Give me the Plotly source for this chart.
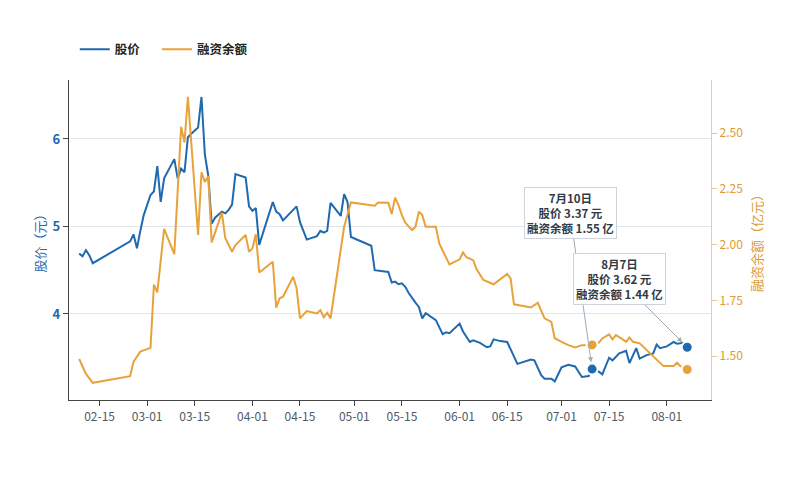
import plotly.graph_objects as go

YEAR = "2025"

# Stock price (yuan)
PRICE_DATES = [
    "02-09", "02-10", "02-11", "02-12", "02-13", "02-24", "02-25", "02-26", "02-27", "02-28",
    "03-02", "03-03", "03-04", "03-05", "03-06", "03-07", "03-09", "03-10", "03-11", "03-12",
    "03-13", "03-14", "03-16", "03-17", "03-18", "03-19", "03-20", "03-21", "03-23", "03-24",
    "03-25", "03-26", "03-27", "03-30", "03-31", "04-01", "04-02", "04-03", "04-07", "04-08",
    "04-09", "04-10", "04-14", "04-15", "04-17", "04-20", "04-21", "04-22", "04-23", "04-24",
    "04-27", "04-28", "04-29", "04-30", "05-06", "05-07", "05-10", "05-11", "05-12", "05-13",
    "05-14", "05-15", "05-16", "05-17", "05-19", "05-20", "05-21", "05-22", "05-25", "05-26",
    "05-27", "05-28", "05-29", "06-01", "06-02", "06-04", "06-05", "06-07", "06-09", "06-10",
    "06-11", "06-13", "06-15", "06-18", "06-22", "06-23", "06-25", "06-26", "06-28", "06-29",
    "07-01", "07-03", "07-05", "07-06", "07-07", "07-09", "07-10", "07-12", "07-13", "07-15",
    "07-16", "07-18", "07-20", "07-21", "07-22", "07-23", "07-24", "07-26", "07-28", "07-29",
    "07-30", "08-01", "08-03", "08-04", "08-06", "08-07",
]
PRICE = [
    4.69, 4.66, 4.73, 4.67, 4.58, 4.83, 4.91, 4.75, 4.95, 5.13,
    5.36, 5.40, 5.69, 5.28, 5.55, 5.62, 5.77, 5.55, 5.66, 5.62,
    6.02, 6.06, 6.13, 6.48, 5.82, 5.58, 5.03, 5.10, 5.17, 5.15,
    5.19, 5.25, 5.60, 5.56, 5.23, 5.18, 5.21, 4.79, 5.28, 5.17,
    5.14, 5.07, 5.23, 5.05, 4.85, 4.89, 4.95, 4.93, 4.95, 5.27,
    5.12, 5.37, 5.28, 4.88, 4.78, 4.50, 4.49, 4.48, 4.36, 4.37,
    4.34, 4.35, 4.31, 4.24, 4.13, 4.08, 3.95, 4.01, 3.93, 3.85,
    3.77, 3.79, 3.78, 3.89, 3.80, 3.68, 3.70, 3.67, 3.62, 3.63,
    3.71, 3.69, 3.68, 3.43, 3.48, 3.47, 3.30, 3.26, 3.26, 3.23,
    3.39, 3.42, 3.40, 3.34, 3.28, 3.29, 3.37, 3.34, 3.31, 3.50,
    3.47, 3.55, 3.58, 3.44, 3.53, 3.61, 3.49, 3.53, 3.55, 3.65,
    3.61, 3.63, 3.68, 3.66, 3.67, 3.62,
]

# Margin financing balance (100 million yuan)
MARGIN_DATES = [
    "02-09", "02-11", "02-13", "02-24", "02-25", "02-27", "03-02", "03-03", "03-04", "03-06",
    "03-09", "03-11", "03-12", "03-13", "03-16", "03-17", "03-18", "03-19", "03-20", "03-23",
    "03-24", "03-26", "03-27", "03-30", "03-31", "04-01", "04-02", "04-03", "04-07", "04-08",
    "04-09", "04-10", "04-13", "04-14", "04-15", "04-17", "04-20", "04-21", "04-22", "04-23",
    "04-24", "04-28", "04-30", "05-06", "05-07", "05-08", "05-11", "05-12", "05-13", "05-14",
    "05-15", "05-16", "05-18", "05-19", "05-20", "05-21", "05-22", "05-25", "05-26", "05-29",
    "06-01", "06-02", "06-03", "06-05", "06-06", "06-08", "06-11", "06-15", "06-16", "06-17",
    "06-22", "06-24", "06-26", "06-28", "06-29", "07-01", "07-03", "07-05", "07-07", "07-10",
    "07-12", "07-13", "07-15", "07-16", "07-17", "07-19", "07-20", "07-21", "07-22", "07-24",
    "07-26", "07-28", "07-30", "07-31", "08-03", "08-04", "08-05", "08-07",
]
MARGIN = [
    1.487, 1.420, 1.380, 1.410, 1.475, 1.520, 1.537, 1.820, 1.786, 2.070,
    1.957, 2.528, 2.458, 2.663, 2.043, 2.324, 2.280, 2.307, 2.010, 2.143,
    2.030, 1.968, 1.998, 2.043, 1.968, 1.983, 2.046, 1.875, 1.923, 1.717,
    1.759, 1.766, 1.856, 1.804, 1.669, 1.702, 1.691, 1.706, 1.674, 1.694,
    1.669, 2.080, 2.189, 2.177, 2.174, 2.189, 2.188, 2.137, 2.210, 2.177,
    2.132, 2.098, 2.065, 2.080, 2.147, 2.132, 2.080, 2.080, 2.005, 1.911,
    1.934, 1.965, 1.943, 1.930, 1.889, 1.841, 1.822, 1.868, 1.848, 1.732,
    1.718, 1.739, 1.669, 1.653, 1.580, 1.564, 1.549, 1.539, 1.549, 1.550,
    1.560, 1.579, 1.597, 1.575, 1.594, 1.575, 1.564, 1.584, 1.564, 1.557,
    1.527, 1.497, 1.467, 1.455, 1.455, 1.470, 1.455, 1.440,
]

# Highlighted days
MARK_DATES = ["07-10", "08-07"]
MARK_LABELS = ["7月10日", "8月7日"]
MARK_PRICE = [3.37, 3.62]
MARK_MARGIN = [1.55, 1.44]

TICK_DATES = ["02-15", "03-01", "03-15", "04-01", "04-15", "05-01",
              "05-15", "06-01", "06-15", "07-01", "07-15", "08-01"]

BLUE = "#1f69b1"
ORANGE = "#e8a23a"
FONT = "Noto Sans CJK SC"


def full_date(md):
    return f"{YEAR}-{md}"


fig = go.Figure()

# Price line (left axis), own legend
fig.add_trace(go.Scatter(
    x=[full_date(d) for d in PRICE_DATES], y=PRICE, name="股价",
    mode="lines", line=dict(color=BLUE, width=2), yaxis="y", legend="legend",
))

# Margin balance line (right axis), second legend so spacing can be set
fig.add_trace(go.Scatter(
    x=[full_date(d) for d in MARGIN_DATES], y=MARGIN, name="融资余额",
    mode="lines", line=dict(color=ORANGE, width=2), yaxis="y2", legend="legend2",
))

# Highlight markers
fig.add_trace(go.Scatter(
    x=[full_date(d) for d in MARK_DATES], y=MARK_PRICE, mode="markers",
    marker=dict(color=BLUE, size=11, line=dict(color="white", width=2)),
    showlegend=False, yaxis="y",
))
fig.add_trace(go.Scatter(
    x=[full_date(d) for d in MARK_DATES], y=MARK_MARGIN, mode="markers",
    marker=dict(color=ORANGE, size=11, line=dict(color="white", width=2)),
    showlegend=False, yaxis="y2",
))

# Callout boxes
offsets = [(-22, -156), (-68, -68)]
for i, d in enumerate(MARK_DATES):
    fig.add_annotation(
        x=full_date(d), y=MARK_PRICE[i], xref="x", yref="y",
        text=f"{MARK_LABELS[i]}<br>股价 {MARK_PRICE[i]:.2f} 元<br>融资余额 {MARK_MARGIN[i]:.2f} 亿",
        showarrow=True, arrowhead=2, arrowsize=1, arrowwidth=1, arrowcolor="#a3abb3",
        ax=offsets[i][0], ay=offsets[i][1], standoff=7,
        font=dict(family=FONT, size=11.5, color="#2f3a45", weight="bold"),
        bgcolor="white", bordercolor="#cdd4db", borderwidth=1, borderpad=2, align="center",
    )

legend_font = dict(family=FONT, size=12.5, color="#222", weight="bold")

fig.update_layout(
    width=808, height=500,
    margin=dict(l=61, r=105, t=72, b=108),
    plot_bgcolor="white", paper_bgcolor="white",
    font=dict(family=FONT, size=12, color="#4a5663"),
    showlegend=True,
    legend=dict(
        orientation="h", x=0.009, xanchor="left", y=1.095, yanchor="middle",
        font=legend_font, itemwidth=30,
    ),
    legend2=dict(
        orientation="h", x=0.137, xanchor="left", y=1.095, yanchor="middle",
        font=legend_font, itemwidth=30,
    ),
    xaxis=dict(
        type="date", range=[full_date("02-06"), full_date("08-14")],
        tickvals=[full_date(d) for d in TICK_DATES], tickformat="%m-%d",
        showgrid=False, showline=True, linecolor="#444", linewidth=1.3,
        ticks="outside", ticklen=5, tickcolor="#444",
        tickfont=dict(family=FONT, size=12, color="#4d5966"),
        zeroline=False,
    ),
    yaxis=dict(
        range=[3.017, 6.674], tickvals=[4, 5, 6],
        showgrid=True, gridcolor="#e2e5e9", gridwidth=1,
        showline=True, linecolor="#444", linewidth=1.3,
        ticks="outside", ticklen=5, tickcolor="#444",
        tickfont=dict(family=FONT, size=13, color=BLUE, weight="bold"),
        title=dict(text="股价（元）", font=dict(family=FONT, size=13, color=BLUE), standoff=4),
        zeroline=False,
    ),
    yaxis2=dict(
        overlaying="y", side="right",
        range=[1.303, 2.738], dtick=0.25, tick0=1.5, tickformat=".2f",
        showgrid=False, showline=True, linecolor="#e6cfa8", linewidth=1.3,
        ticks="outside", ticklen=5, tickcolor="#e0c89c",
        tickfont=dict(family=FONT, size=12, color="#dc9b35"),
        title=dict(text="融资余额（亿元）", font=dict(family=FONT, size=13, color="#dc9b35"), standoff=10),
        zeroline=False,
    ),
)

fig.write_html("out.html")
